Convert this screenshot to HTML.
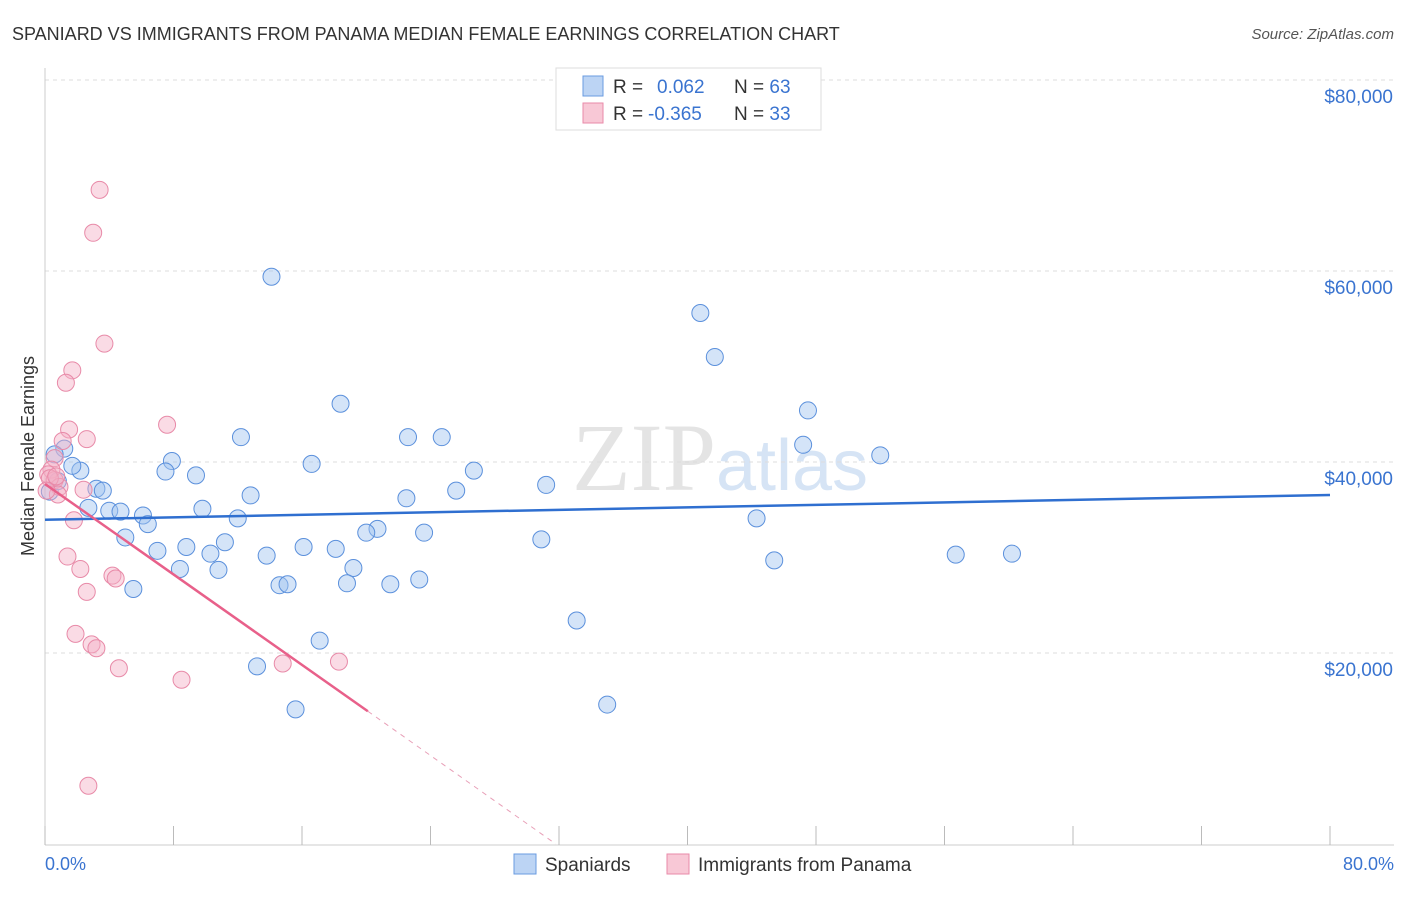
<!DOCTYPE html>
<html><head><meta charset="utf-8"><style>
body{margin:0;background:#fff;font-family:"Liberation Sans",sans-serif;}
</style></head><body>
<svg id="c" width="1406" height="892" xmlns="http://www.w3.org/2000/svg">
<text x="12" y="40" font-size="18" fill="#333">SPANIARD VS IMMIGRANTS FROM PANAMA MEDIAN FEMALE EARNINGS CORRELATION CHART</text>
<text x="1394" y="39" font-size="15" fill="#555" font-style="italic" text-anchor="end">Source: ZipAtlas.com</text>
<text x="720" y="490" font-size="96" fill="#e4e4e4" text-anchor="middle" font-family="Liberation Serif,serif">ZIP<tspan fill="#d6e4f5" font-family="Liberation Sans,sans-serif" font-size="72">atlas</tspan></text>
<g id="grid"></g>
<g id="axes"></g>
<g id="pts"></g>
<g id="trend"></g>
<text x="34" y="456" font-size="18" fill="#333" text-anchor="middle" transform="rotate(-90 34 456)">Median Female Earnings</text>
<text x="45" y="870" font-size="18" fill="#3a74d0">0.0%</text>
<text x="1394" y="870" font-size="18" fill="#3a74d0" text-anchor="end">80.0%</text>
<g>
<rect x="556" y="68" width="265" height="62" fill="#fff" stroke="#ddd"/>
<rect x="583" y="76" width="20" height="20" fill="#bcd4f4" stroke="#6a9be0"/>
<rect x="583" y="103" width="20" height="20" fill="#f8c8d6" stroke="#e98aa8"/>
<text x="613" y="93" font-size="19" fill="#333">R = <tspan fill="#3a74d0" x="657">0.062</tspan><tspan x="734">N = </tspan><tspan fill="#3a74d0">63</tspan></text>
<text x="613" y="120" font-size="19" fill="#333">R = <tspan fill="#3a74d0" x="648">-0.365</tspan><tspan x="734">N = </tspan><tspan fill="#3a74d0">33</tspan></text>
</g>
<g>
<rect x="514" y="854" width="22" height="20" fill="#bcd4f4" stroke="#6a9be0"/>
<text x="545" y="871" font-size="19" fill="#333">Spaniards</text>
<rect x="667" y="854" width="22" height="20" fill="#f8c8d6" stroke="#e98aa8"/>
<text x="698" y="871" font-size="19" fill="#333">Immigrants from Panama</text>
</g>
</svg>
<script>
const yTicks=[20000,40000,60000,80000];
const yTickLabels=["$20,000","$40,000","$60,000","$80,000"];
const xTicks=[0,8,16,24,32,40,48,56,64,72,80];
const spaniardX=[14.1,40.8,41.7,18.4,47.5,12.2,22.6,24.7,47.2,52.0,7.9,16.6,7.5,9.4,26.7,2.2,1.2,0.6,1.7,25.6,31.2,3.2,3.6,22.5,12.8,9.8,2.7,4.0,4.7,6.1,6.4,12.0,44.3,20.7,20.0,23.6,5.0,30.9,11.2,7.0,8.8,10.3,13.8,16.1,18.1,45.4,56.7,60.2,8.4,10.8,19.2,5.5,14.6,15.1,18.8,21.5,23.3,33.1,17.1,13.2,15.6,35.0,0.3,0.8];
const spaniardY=[59400,55600,51000,46100,45400,42600,42600,42600,41800,40700,40100,39800,39000,38600,39100,39100,41400,40800,39600,37000,37600,37200,37000,36200,36500,35100,35200,34900,34800,34400,33500,34100,34100,33000,32600,32600,32100,31900,31600,30700,31100,30400,30200,31100,30900,29700,30300,30400,28800,28700,28900,26700,27100,27200,27300,27200,27700,23400,21300,18600,14100,14600,36900,38000];
const panamaX=[3.4,3.0,3.7,1.7,1.3,7.6,1.5,2.6,1.1,0.6,0.4,0.2,0.6,0.9,0.8,2.4,1.8,1.4,2.2,4.2,4.4,2.6,1.9,2.9,3.2,4.6,8.5,14.8,18.3,2.7,0.3,0.7,0.1];
const panamaY=[68500,64000,52400,49600,48300,43900,43400,42400,42200,40400,39200,38700,38100,37400,36600,37100,33900,30100,28800,28100,27800,26400,22000,20900,20500,18400,17200,18900,19100,6100,38300,38500,37000];
const blueTrend=[[0,33950],[80,36550]];
const pinkTrend=[[0,37700],[20.1,13900]];
const pinkDash=[[20.1,13900],[31.8,0]];
const X=v=>45+v/80*1285, Y=v=>844-v/20000*191;
const NS="http://www.w3.org/2000/svg";
function mk(t,a,p){const e=document.createElementNS(NS,t);for(const k in a)e.setAttribute(k,a[k]);document.getElementById(p).appendChild(e);return e;}
yTicks.forEach((v,i)=>{
 const g=mk('line',{x1:45,x2:1394,y1:Y(v),y2:Y(v),stroke:'#ddd','stroke-dasharray':'4,4'},'grid');
 
 
 const t=mk('text',{x:1393,y:Y(v)+23,'font-size':19,fill:'#3a74d0','text-anchor':'end'},'grid');
 t.textContent=yTickLabels[i];
 
 
});
mk('line',{x1:45,x2:45,y1:68,y2:845,stroke:'#ccc'},'axes');
mk('line',{x1:45,x2:1394,y1:845,y2:845,stroke:'#ccc'},'axes');
xTicks.forEach(v=>{
 const t=mk('line',{x1:X(v),x2:X(v),y1:826,y2:845,stroke:'#bbb'},'axes');
 
 
});
spaniardX.forEach((x,i)=>{
 const c=mk('circle',{cx:X(x),cy:Y(spaniardY[i]),r:8.5,fill:'rgba(160,195,240,0.45)',stroke:'#5b90dc','stroke-width':1},'pts');
 
 
});
panamaX.forEach((x,i)=>{
 const c=mk('circle',{cx:X(x),cy:Y(panamaY[i]),r:8.5,fill:'rgba(245,175,198,0.45)',stroke:'#e88aa8','stroke-width':1},'pts');
 
 
});
let l=mk('line',{x1:X(blueTrend[0][0]),y1:Y(blueTrend[0][1]),x2:X(blueTrend[1][0]),y2:Y(blueTrend[1][1]),stroke:'#2f6fd0','stroke-width':2.5},'trend');


l=mk('line',{x1:X(pinkTrend[0][0]),y1:Y(pinkTrend[0][1]),x2:X(pinkTrend[1][0]),y2:Y(pinkTrend[1][1]),stroke:'#e8608a','stroke-width':2.5},'trend');


l=mk('line',{x1:X(pinkDash[0][0]),y1:Y(pinkDash[0][1]),x2:X(pinkDash[1][0]),y2:Y(pinkDash[1][1]),stroke:'#e8a0b8','stroke-width':1,'stroke-dasharray':'5,5'},'trend');


</script>
</body></html>
